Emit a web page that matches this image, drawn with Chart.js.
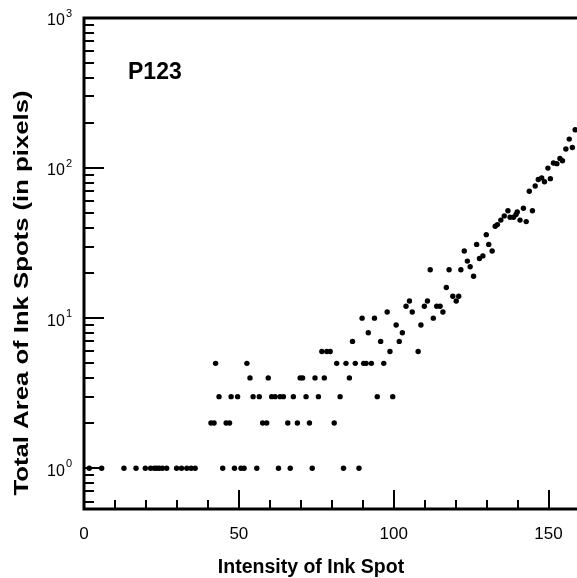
<!DOCTYPE html>
<html>
<head>
<meta charset="utf-8">
<title>P123 – Total area of ink spots vs intensity</title>
<script src="https://cdn.jsdelivr.net/npm/chart.js@4/dist/chart.umd.min.js"></script>
<style>
  html, body { margin: 0; padding: 0; background: #fff; }
  #wrap { width: 577px; height: 578px; position: relative; }
</style>
</head>
<body>
<div id="wrap"><canvas id="c" width="577" height="578"></canvas></div>
<script>
// Spot intensity (x) and the total area of ink spots at that intensity (y, pixels)
const intensity = [
  1.7, 5.7, 12.9, 16.8, 19.8, 21.5, 22.7, 23.5, 24.3, 25.3, 26.7, 29.9, 31.5, 33.2, 34.6, 35.9,
  41.0, 42.0, 42.5, 43.6, 44.8, 45.9, 47.0, 47.5, 48.6, 49.6, 50.7, 51.7, 52.6, 53.6, 54.6, 55.8,
  56.6, 57.7, 59.0, 59.5, 60.6, 61.7, 62.8, 63.3, 64.4, 65.8, 66.6, 67.6, 68.9, 69.8, 70.6, 71.7,
  72.8, 73.7, 74.6, 75.7, 76.8, 77.6, 78.4, 79.5, 80.8, 81.6, 82.7, 83.8, 84.6, 85.7, 86.7, 87.6,
  88.8, 89.8, 90.3, 91.1, 91.8, 92.8, 93.8, 94.7, 95.8, 96.8, 97.9, 98.8, 99.7, 100.8, 101.8, 102.8,
  104.0, 105.1, 106.0, 107.9, 108.8, 109.9, 110.9, 111.8, 112.8, 113.9, 115.0, 115.9, 117.0, 117.9,
  119.1, 120.2, 121.0, 121.7, 122.8, 123.8, 124.7, 125.8, 126.8, 127.7, 128.8, 129.9, 130.7, 131.8,
  132.8, 133.5, 134.6, 135.7, 136.9, 137.6, 138.7, 139.5, 139.9, 140.8, 141.9, 142.8, 143.8, 144.8,
  145.7, 146.7, 147.8, 148.7, 149.8, 150.6, 151.6, 152.7, 153.7, 154.5, 155.6, 156.7, 157.7, 158.6
];
const totalArea = [
  1, 1, 1, 1, 1, 1, 1, 1, 1, 1, 1, 1, 1, 1, 1, 1,
  2, 2, 5, 3, 1, 2, 2, 3, 1, 3, 1, 1, 5, 4, 3, 1,
  3, 2, 2, 4, 3, 3, 1, 3, 3, 2, 1, 3, 2, 4, 4, 3,
  2, 1, 4, 3, 6, 4, 6, 6, 2, 5, 3, 1, 5, 4, 7, 5,
  1, 10, 5, 5, 8, 5, 10, 3, 7, 5, 11, 6, 3, 9, 7, 8,
  12, 13, 11, 6, 9, 12, 13, 21, 10, 12, 12, 11, 16, 21,
  14, 13, 14, 21, 28, 24, 22, 19, 31, 25, 26, 36, 31, 28,
  41, 42, 45, 48, 52, 47, 47, 49, 51, 45, 54, 44, 70, 52,
  76, 84, 86, 81, 100, 85, 108, 107, 116, 112, 134, 156, 137, 180
];

// Axis labels and annotation
const xTickLabels = ['0', '50', '100', '150'];
const xTickValues = [0, 50, 100, 150];
const yTickExponents = [0, 1, 2, 3];
const xTitle = 'Intensity of Ink Spot';
const yTitle = 'Total Area of Ink Spots (in pixels)';
const sampleLabel = 'P123';

const FONT = '"Liberation Sans", Arial, Helvetica, sans-serif';

const points = intensity.map((v, i) => ({ x: v, y: totalArea[i] }));

// Frame, inward tick marks, tick labels and titles
const framePlugin = {
  id: 'frame',
  beforeDatasetsDraw(chart) {
    const { ctx, chartArea: a, scales: { x, y } } = chart;
    ctx.save();
    ctx.strokeStyle = '#000';
    ctx.lineCap = 'butt';

    // y ticks: full decade ticks long, 2..9 short, pointing into the plot
    ctx.lineWidth = 2;
    ctx.beginPath();
    for (let d = -1; d <= 3; d++) {
      for (let m = 1; m <= 9; m++) {
        const v = m * Math.pow(10, d);
        if (v < y.min || v > y.max) continue;
        const py = Math.round(y.getPixelForValue(v));
        const len = m === 1 ? 20 : 10;
        ctx.moveTo(a.left, py);
        ctx.lineTo(a.left + len, py);
      }
    }
    // x ticks every 10, longer every 50
    for (let v = 10; v <= x.max; v += 10) {
      const px = Math.round(x.getPixelForValue(v));
      const len = v % 50 === 0 ? 19 : 9;
      ctx.moveTo(px, a.bottom);
      ctx.lineTo(px, a.bottom - len);
    }
    ctx.stroke();

    // frame lines: left axis, bottom axis, top edge
    ctx.lineWidth = 3;
    ctx.beginPath();
    ctx.moveTo(a.right, a.top);
    ctx.lineTo(a.left, a.top);
    ctx.lineTo(a.left, a.bottom);
    ctx.lineTo(a.right, a.bottom);
    ctx.stroke();

    ctx.fillStyle = '#000';

    // x tick labels
    ctx.font = '17px ' + FONT;
    ctx.textAlign = 'center';
    ctx.textBaseline = 'middle';
    xTickValues.forEach((v, i) => {
      ctx.fillText(xTickLabels[i], x.getPixelForValue(v), a.bottom + 25);
    });

    // y tick labels: 10 with a raised exponent
    yTickExponents.forEach(e => {
      const py = y.getPixelForValue(Math.pow(10, e));
      ctx.font = '11px ' + FONT;
      ctx.textAlign = 'left';
      ctx.textBaseline = 'alphabetic';
      const expW = ctx.measureText(String(e)).width;
      const right = a.left - 12;
      ctx.fillText(String(e), right - expW, py - 1);
      ctx.font = '16px ' + FONT;
      ctx.textAlign = 'right';
      ctx.textBaseline = 'middle';
      ctx.fillText('10', right - expW - 1, py + 3);
    });

    // axis titles
    ctx.textAlign = 'center';
    ctx.textBaseline = 'middle';
    ctx.font = 'bold 19.5px ' + FONT;
    ctx.fillText(xTitle, 311, 568);
    ctx.save();
    ctx.translate(22, 293);
    ctx.rotate(-Math.PI / 2);
    ctx.font = 'bold 21px ' + FONT;
    const w = ctx.measureText(yTitle).width;
    ctx.scale(405 / w, 1);
    ctx.fillText(yTitle, 0, 0);
    ctx.restore();

    // sample label
    ctx.font = 'bold 23px ' + FONT;
    ctx.textAlign = 'left';
    ctx.textBaseline = 'alphabetic';
    ctx.fillText(sampleLabel, 128, 79);

    ctx.restore();
  }
};

new Chart(document.getElementById('c'), {
  type: 'scatter',
  data: {
    datasets: [{
      data: points,
      backgroundColor: '#000',
      borderColor: '#000',
      pointRadius: 2.7,
      pointBorderWidth: 0,
      pointHoverRadius: 2.7,
      clip: false
    }]
  },
  options: {
    responsive: false,
    devicePixelRatio: 1,
    animation: false,
    events: [],
    layout: { padding: { top: 18, left: 0, right: 0, bottom: 0 }, autoPadding: false },
    plugins: { legend: { display: false }, tooltip: { enabled: false } },
    scales: {
      x: {
        type: 'linear',
        min: 0,
        max: 159.2,
        grid: { display: false },
        border: { display: false },
        ticks: { display: false },
        afterFit(scale) { scale.height = 69; }
      },
      y: {
        type: 'logarithmic',
        min: 0.535,
        max: 1000,
        grid: { display: false },
        border: { display: false },
        ticks: { display: false },
        afterFit(scale) { scale.width = 84; }
      }
    }
  },
  plugins: [framePlugin]
});
</script>
</body>
</html>
